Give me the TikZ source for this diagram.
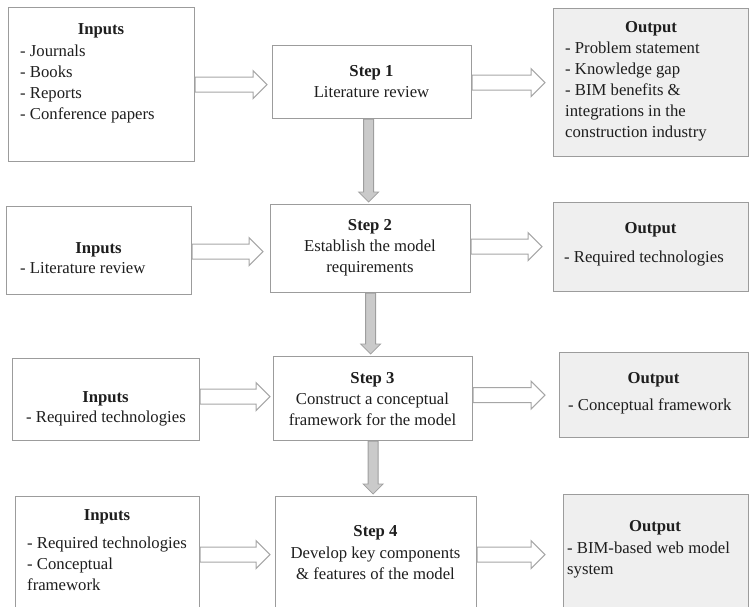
\documentclass[tikz,border=0pt]{standalone}
\usepackage{fontspec}
\setmainfont{Liberation Serif}
\usetikzlibrary{calc}

\definecolor{boxline}{HTML}{9C9C9C}
\definecolor{outfill}{HTML}{EFEFEF}
\definecolor{txtc}{HTML}{1E1E1E}
\definecolor{arrline}{HTML}{A6A6A6}
\definecolor{varrline}{HTML}{9E9E9E}
\definecolor{varrfill}{HTML}{CACACA}

% lines of a text block; the block's baseline is its first line
\newcommand\textlines[2]{\begin{tabular}[t]{@{}#1@{}}#2\end{tabular}}

\begin{document}
\begin{tikzpicture}[x=1pt,y=-1pt,
  box/.style={draw=boxline, line width=1.2pt, fill=white, inner sep=0pt, anchor=north west},
  outbox/.style={box, fill=outfill},
  txt/.style={text=txtc, inner sep=0pt, font=\fontsize{16.7}{21}\selectfont},
  head/.style={txt, font=\fontsize{16.7}{21}\selectfont\bfseries, anchor=base},
  body/.style={txt, anchor=base west},
  steptxt/.style={txt, anchor=base},
  harrow/.style={draw=arrline, fill=white, line width=1pt, line join=miter,
    to path={let \p1=(\tikztostart), \p2=(\tikztotarget) in
      (\x1,\y1+7.5pt) -- (\x2-14pt,\y1+7.5pt) -- (\x2-14pt,\y1+14pt) -- (\x2,\y1)
      -- (\x2-14pt,\y1-14pt) -- (\x2-14pt,\y1-7.5pt) -- (\x1,\y1-7.5pt) -- cycle}},
  varrow/.style={draw=varrline, fill=varrfill, line width=0.8pt, line join=miter,
    to path={let \p1=(\tikztostart), \p2=(\tikztotarget) in
      (\x1-5pt,\y1) -- (\x1-5pt,\y2+10pt) -- (\x1-10pt,\y2+10pt) -- (\x1,\y2)
      -- (\x1+10pt,\y2+10pt) -- (\x1+5pt,\y2+10pt) -- (\x1+5pt,\y1) -- cycle}}
]
\useasboundingbox (0,0) rectangle (749,606);
\clip (0,0) rectangle (749,606);

% ---- boxes: inputs, steps, outputs ----
\node[box, minimum width=186, minimum height=154] (in1) at (8,7) {};
\node[box, minimum width=199, minimum height=73] (st1) at (272,45) {};
\node[outbox, minimum width=195.3, minimum height=148] (out1) at (553,8) {};

\node[box, minimum width=185, minimum height=88] (in2) at (6,206) {};
\node[box, minimum width=200, minimum height=88] (st2) at (270,204) {};
\node[outbox, minimum width=195.3, minimum height=89] (out2) at (553,202) {};

\node[box, minimum width=187, minimum height=82] (in3) at (12,358) {};
\node[box, minimum width=199, minimum height=84] (st3) at (273,356) {};
\node[outbox, minimum width=189.8, minimum height=85] (out3) at (558.5,352) {};

\node[box, minimum width=184, minimum height=130] (in4) at (15,496) {};
\node[box, minimum width=201, minimum height=130] (st4) at (275,496) {};
\node[outbox, minimum width=185.3, minimum height=132] (out4) at (563,494) {};

% ---- hollow block arrows: inputs -> step -> output ----
\path (in1.east) edge[harrow] ([xshift=-5pt]st1.west);
\path ([yshift=-0.5pt]st1.east) edge[harrow] ([xshift=-8pt]out1.west);
\path ([yshift=-1pt]in2.east) edge[harrow] ([xshift=-7pt]st2.west);
\path ([yshift=2pt]st2.east) edge[harrow] ([xshift=-11pt]out2.west);
\path ([yshift=3pt]in3.east) edge[harrow] ([xshift=-3pt]st3.west);
\path ([yshift=3.5pt]st3.east) edge[harrow] ([xshift=-13.5pt]out3.west);
\path ([yshift=7pt]in4.east) edge[harrow] ([xshift=-5pt]st4.west);
\path ([yshift=7pt]st4.east) edge[harrow] ([xshift=-18pt]out4.west);

% ---- grey arrows between the steps ----
\path ([xshift=-3.5pt]st1.south) edge[varrow] ([yshift=2pt]st2.north);
\path (st2.south) edge[varrow] ([yshift=2pt]st3.north);
\path (st3.south) edge[varrow] ([yshift=2pt]st4.north);

% ---- row 1 ----
\node[head] (in1h) at (101,34) {Inputs};
\node[body] (in1b) at (20,56) {\textlines{l}{- Journals\\- Books\\- Reports\\- Conference papers}};
\node[steptxt] (st1t) at (371.5,76) {\textlines{c}{\textbf{Step 1}\\Literature review}};
\node[head] (out1h) at (651,32) {Output};
\node[body] (out1b) at (565,53) {\textlines{l}{- Problem statement\\- Knowledge gap\\- BIM benefits \&\\integrations in the\\construction industry}};

% ---- row 2 ----
\node[head] (in2h) at (98.5,253) {Inputs};
\node[body] (in2b) at (20,273) {- Literature review};
\node[steptxt] (st2t) at (370,230) {\textlines{c}{\textbf{Step 2}\\Establish the model\\requirements}};
\node[head] (out2h) at (650.5,233) {Output};
\node[body] (out2b) at (564,262) {- Required technologies};

% ---- row 3 ----
\node[head] (in3h) at (105.5,402) {Inputs};
\node[body] (in3b) at (26,422) {- Required technologies};
\node[steptxt] (st3t) at (372.5,383) {\textlines{c}{\textbf{Step 3}\\Construct a conceptual\\framework for the model}};
\node[head] (out3h) at (653.5,383) {Output};
\node[body] (out3b) at (568,410) {- Conceptual framework};

% ---- row 4 ----
\node[head] (in4h) at (107,520) {Inputs};
\node[body] (in4b) at (27,548) {\textlines{l}{- Required technologies\\- Conceptual\\framework}};
\node[steptxt] (st4h) at (375.5,536) {\textbf{Step 4}};
\node[steptxt] (st4t) at (375.5,558) {\textlines{c}{Develop key components\\\& features of the model}};
\node[head] (out4h) at (655,531) {Output};
\node[body] (out4b) at (567,553) {\textlines{l}{- BIM-based web model\\system}};
\end{tikzpicture}
\end{document}
